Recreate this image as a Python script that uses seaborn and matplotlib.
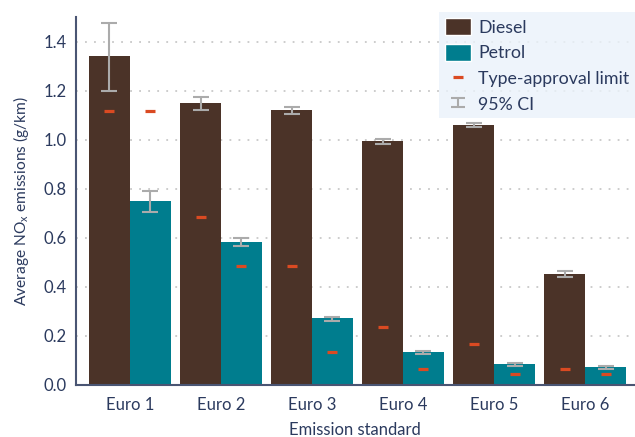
import matplotlib
matplotlib.use("Agg")
import matplotlib.pyplot as plt
from matplotlib.patches import Patch
from matplotlib.lines import Line2D
from matplotlib.legend_handler import HandlerErrorbar
from matplotlib.container import ErrorbarContainer
import seaborn as sns
import pandas as pd
import numpy as np

standards = ["Euro 1", "Euro 2", "Euro 3", "Euro 4", "Euro 5", "Euro 6"]
diesel = [1.342, 1.149, 1.121, 0.995, 1.060, 0.452]
petrol = [0.750, 0.582, 0.272, 0.133, 0.084, 0.072]
diesel_ci_low = [1.200, 1.121, 1.106, 0.982, 1.050, 0.440]
diesel_ci_high = [1.476, 1.174, 1.131, 1.002, 1.067, 0.464]
petrol_ci_low = [0.705, 0.566, 0.261, 0.124, 0.078, 0.064]
petrol_ci_high = [0.790, 0.600, 0.278, 0.136, 0.087, 0.078]
diesel_limit = [1.117, 0.684, 0.484, 0.237, 0.166, 0.065]
petrol_limit = [1.117, 0.484, 0.133, 0.065, 0.044, 0.044]

text_c = "#2B3A5E"
diesel_c = "#4B3328"
petrol_c = "#007D8E"
limit_c = "#DA4A22"
ci_c = "#ABABAB"

sns.set_theme(style="white")
plt.rcParams["font.family"] = ["Lato", "DejaVu Sans"]

df = pd.DataFrame({
    "standard": standards * 2,
    "fuel": ["Diesel"] * 6 + ["Petrol"] * 6,
    "value": diesel + petrol,
})

fig = plt.figure(figsize=(6.35, 4.37), dpi=100)
ax = fig.add_axes([76 / 635, 1 - 384.7 / 437, (634 - 76) / 635, (384.7 - 17) / 437])

sns.barplot(data=df, x="standard", y="value", hue="fuel", order=standards,
            hue_order=["Diesel", "Petrol"], palette=[diesel_c, petrol_c],
            width=0.9, errorbar=None, saturation=1, ax=ax, legend=False,
            linewidth=0, zorder=2)

series = [(diesel, diesel_ci_low, diesel_ci_high, diesel_limit),
          (petrol, petrol_ci_low, petrol_ci_high, petrol_limit)]
for cont, (vals, lo, hi, lim) in zip(list(ax.containers), series):
    xs = [b.get_x() + b.get_width() / 2 for b in cont]
    mid = [(a + b) / 2 for a, b in zip(lo, hi)]
    err = [[m - a for m, a in zip(mid, lo)], [b - m for m, b in zip(mid, hi)]]
    ax.errorbar(xs, mid, yerr=err, fmt="none", ecolor=ci_c, elinewidth=1.5,
                capsize=5.8, capthick=1.5, zorder=4)
    ax.plot(xs, lim, ls="none", marker="_", ms=7.5, mew=2.3, color=limit_c, zorder=5)

ax.set_xlim(-0.593, 5.538)
ax.set_ylim(0, 1.5)
ax.set_yticks([0.0, 0.2, 0.4, 0.6, 0.8, 1.0, 1.2, 1.4])
ax.set_yticklabels(["0.0", "0.2", "0.4", "0.6", "0.8", "1.0", "1.2", "1.4"])
ax.yaxis.grid(True, linestyle=(0, (1, 4)), color="#C8C8C8", linewidth=1.3, zorder=0)
ax.set_axisbelow(True)
for s in ["top", "right"]:
    ax.spines[s].set_visible(False)
for s in ["left", "bottom"]:
    ax.spines[s].set_color("#4A5573")
    ax.spines[s].set_linewidth(1.5)
    ax.spines[s].set_zorder(6)
ax.tick_params(axis="y", length=0, labelsize=12, colors=text_c, pad=7)
ax.tick_params(axis="x", length=0, labelsize=12, colors=text_c, pad=9)
ax.set_xlabel("Emission standard", fontsize=12, color=text_c, labelpad=6)
ax.set_ylabel("Average NO$_\\mathregular{x}$ emissions (g/km)", fontsize=11.2,
              color=text_c, labelpad=9)

ci_handle = ax.errorbar([-10], [0.5], yerr=[0.1], fmt="none", ecolor=ci_c,
                        elinewidth=1.5, capsize=5, capthick=1.5, label="95% CI")
handles = [
    Patch(facecolor=diesel_c, label="Diesel"),
    Patch(facecolor=petrol_c, label="Petrol"),
    Line2D([], [], ls="none", marker="_", ms=7.5, mew=2.3, color=limit_c,
           label="Type-approval limit"),
    ci_handle,
]
leg = ax.legend(handles=handles, loc="upper right", bbox_to_anchor=(1.0, 1 - 12 / 437),
                bbox_transform=fig.transFigure,
                handler_map={ErrorbarContainer: HandlerErrorbar(yerr_size=0.25)},
                frameon=True, fontsize=12.8, handlelength=1.45, handleheight=1.12,
                handletextpad=0.4, labelspacing=0.45, borderpad=0.33,
                fancybox=False, borderaxespad=0.0)
leg.get_frame().set_facecolor("#EAF2FA")
leg.get_frame().set_edgecolor("none")
for t in leg.get_texts():
    t.set_color(text_c)

fig.savefig("out.png", dpi=100)
